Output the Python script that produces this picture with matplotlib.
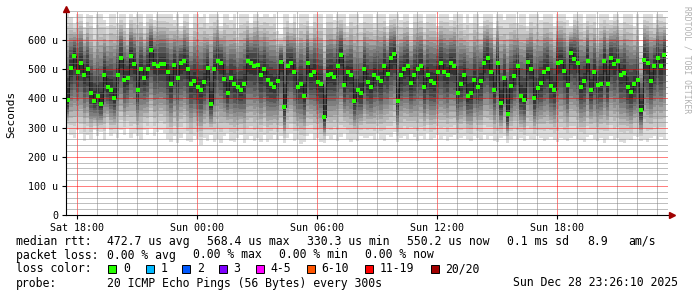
import numpy as np
import matplotlib
matplotlib.use("Agg")
import matplotlib.pyplot as plt
from matplotlib.patches import Rectangle
from matplotlib.ticker import MultipleLocator, FixedLocator

# time axis in hours, 0 = Sat 18:00, one sample every 10 minutes
T_START = -0.55
STEP_H = 10 / 60.0

# median rtt per sample (us)
median_rtt = [
    395, 506, 547, 490, 522, 480, 500, 420, 391, 407, 380, 480, 440, 430, 400,
    480, 540, 462, 470, 545, 517, 428, 500, 470, 500, 565, 517, 510, 517, 517,
    490, 450, 515, 470, 520, 528, 500, 450, 460, 440, 430, 456, 505, 382, 500,
    530, 522, 466, 418, 470, 450, 440, 430, 450, 527, 520, 512, 514, 480, 500,
    462, 450, 440, 460, 525, 370, 510, 522, 490, 440, 450, 410, 520, 480, 490,
    456, 450, 336, 480, 485, 475, 510, 550, 445, 490, 480, 392, 430, 420, 500,
    456, 440, 480, 470, 460, 510, 485, 540, 554, 390, 480, 500, 510, 452, 480,
    500, 510, 440, 480, 460, 453, 490, 520, 490, 480, 520, 510, 420, 450, 480,
    410, 418, 464, 440, 460, 522, 540, 490, 428, 522, 385, 470, 345, 441, 476,
    510, 407, 396, 525, 500, 400, 435, 453, 490, 500, 442, 428, 522, 525, 495,
    445, 555, 535, 523, 440, 460, 528, 430, 490, 445, 450, 530, 450, 540, 518,
    530, 480, 487, 440, 422, 450, 464, 360, 533, 520, 460, 510, 540, 510, 550,
]

# slowest ping per sample (top of the smoke)
max_rtt = [
    690, 680, 655, 690, 690, 645, 690, 685, 640, 690, 690, 670, 650, 690, 690,
    660, 690, 690, 640, 690, 680, 690, 690, 650, 690, 690, 670, 690, 690, 690,
    690, 690, 670, 690, 650, 690, 690, 640, 690, 690, 680, 690, 660, 690, 690,
    690, 650, 690, 690, 670, 690, 640, 690, 690, 690, 660, 690, 690, 680, 690,
    690, 680, 690, 630, 620, 690, 690, 660, 690, 640, 690, 690, 690, 650, 690,
    690, 690, 640, 690, 690, 670, 690, 690, 690, 650, 690, 690, 690, 660, 690,
    690, 690, 660, 690, 690, 690, 650, 690, 690, 690, 670, 690, 690, 640, 690,
    690, 690, 660, 690, 690, 690, 650, 690, 690, 690, 670, 690, 690, 690, 660,
    690, 660, 690, 690, 650, 690, 690, 690, 640, 690, 690, 670, 690, 690, 690,
    660, 690, 690, 650, 690, 690, 690, 670, 690, 690, 690, 650, 690, 690, 690,
    670, 650, 690, 690, 690, 660, 690, 690, 690, 640, 690, 690, 690, 670, 690,
    690, 660, 690, 690, 690, 650, 690, 580, 690, 690, 690, 660, 690, 690, 680,
]

# fastest ping per sample (bottom of the smoke)
min_rtt = [
    300, 275, 265, 290, 280, 255, 275, 262, 290, 270, 285, 258, 300, 270, 280,
    265, 290, 275, 300, 265, 280, 270, 258, 290, 275, 300, 270, 285, 290, 280,
    262, 252, 270, 248, 265, 280, 255, 250, 270, 260, 240, 265, 255, 275, 250,
    262, 248, 270, 280, 255, 252, 265, 275, 248, 260, 270, 255, 265, 252, 275,
    250, 262, 275, 258, 270, 248, 265, 280, 255, 262, 245, 250, 270, 280, 258,
    265, 250, 248, 270, 262, 275, 255, 268, 280, 260, 250, 262, 255, 270, 265,
    265, 270, 258, 280, 262, 255, 275, 268, 285, 250, 265, 272, 260, 278, 268,
    255, 270, 262, 280, 258, 265, 275, 262, 270, 255, 268, 275, 260, 265, 270,
    262, 255, 270, 265, 258, 275, 262, 270, 255, 250, 265, 270, 248, 262, 270,
    258, 265, 255, 270, 262, 258, 270, 265, 255, 262, 268, 258, 252, 265, 260,
    255, 265, 270, 260, 258, 250, 268, 275, 262, 255, 265, 248, 262, 270, 258,
    265, 252, 248, 262, 258, 270, 268, 255, 262, 250, 265, 270, 260, 268, 262,
]

hour_ticks = [0, 6, 12, 18, 24]
hour_labels = ["Sat 18:00", "Sun 00:00", "Sun 06:00", "Sun 12:00", "Sun 18:00"]

loss_labels = ["0", "1", "2", "3", "4-5", "6-10", "11-19", "20/20"]
loss_colors = ["#26ff00", "#00b8ff", "#0059ff", "#7e00ff",
               "#ff00ff", "#ff5500", "#ff0000", "#a10000"]

# smoke layers: share of the spread covered by each band (20 pings, sorted)
band_frac = [1.0, 0.86, 0.75, 0.66, 0.58, 0.50, 0.42, 0.34, 0.25, 0.14]

MONO = "DejaVu Sans Mono"
W, H = 697, 297


def fx(px):
    return px / W


def fy(py):
    return 1 - py / H


fig = plt.figure(figsize=(W / 100, H / 100), dpi=100)
ax = fig.add_axes([fx(66), fy(215), (668 - 66) / W, (215 - 11) / H])

med = np.array(median_rtt, dtype=float)
hi = np.array(max_rtt, dtype=float)
lo = np.array(min_rtt, dtype=float)
n = len(med)
t = T_START + np.arange(n + 1) * STEP_H

def ext(a):
    return np.append(a, a[-1])

for i, f in enumerate(band_frac):
    g = int(190 / 10 * (10 - (i + 1))) + 50
    col = "#%02x%02x%02x" % (g, g, g)
    top = med + (hi - med) * f
    bot = med - (med - lo) * f
    ax.fill_between(t, ext(bot), ext(top), step="post", color=col, lw=0, zorder=1)

# median: dark connector + green marks
ax.step(t, ext(med), where="post", color="#1c1c1c", lw=0.7, zorder=1.5)
ax.plot(t[:-1] + STEP_H / 2, med, "s", color=loss_colors[0], ms=2.4, mew=0, zorder=3)

ax.set_xlim(T_START, T_START + 602 / 20)
ax.set_ylim(0, 700)

ax.xaxis.set_major_locator(FixedLocator(hour_ticks))
ax.set_xticklabels(hour_labels)
ax.xaxis.set_minor_locator(MultipleLocator(1))
ax.yaxis.set_major_locator(FixedLocator([0, 100, 200, 300, 400, 500, 600]))
ax.set_yticklabels(["0"] + ["%d u" % v for v in range(100, 700, 100)])
ax.yaxis.set_minor_locator(MultipleLocator(20))

ax.set_axisbelow(False)
ax.grid(which="major", color=(1, 0, 0, 0.22), ls=(0, (1, 1)), lw=0.72)
ax.grid(which="minor", color=(0.5, 0.5, 0.5, 0.2), ls=(0, (1, 1)), lw=0.72)

for s in ["top", "right"]:
    ax.spines[s].set_visible(False)
for s in ["left", "bottom"]:
    ax.spines[s].set_linewidth(0.8)
    ax.spines[s].set_zorder(4)

ax.tick_params(which="major", length=3, width=0.8, labelsize=7.2, pad=2.5)
ax.tick_params(which="minor", length=0)
for lab in ax.get_xticklabels() + ax.get_yticklabels():
    lab.set_family(MONO)

# arrow heads on the axes
ax.plot([1.006], [0], ">", color="#a00000", ms=4, transform=ax.transAxes, clip_on=False, zorder=5)
ax.plot([0], [1.012], "^", color="#a00000", ms=4, transform=ax.transAxes, clip_on=False, zorder=5)

fig.text(fx(11.5), fy(114), "Seconds", rotation=90, ha="center", va="center",
         family=MONO, fontsize=8)
fig.text(fx(687.5), fy(60), "RRDTOOL / TOBI OETIKER", rotation=-90, ha="center",
         va="center", family=MONO, fontsize=5.8, color="#b0b0b0")

# legend block
LS = 8.3
rows_y = [241.5, 255, 269, 283]

line1 = [(16, "median rtt:"), (106.7, "472.7 us avg"), (206.7, "568.4 us max"),
         (306.7, "330.3 us min"), (407.3, "550.2 us now"), (506.7, "0.1 ms sd"),
         (587.3, "8.9"), (628.3, "am/s")]
line2 = [(16, "packet loss:"), (107, "0.00 % avg"), (193, "0.00 % max"),
         (279, "0.00 % min"), (365, "0.00 % now")]
line4 = [(16, "probe:"), (107, "20 ICMP Echo Pings (56 Bytes) every 300s"),
         (513.3, "Sun Dec 28 23:26:10 2025")]

for row, y in [(line1, rows_y[0]), (line2, rows_y[1]), (line4, rows_y[3])]:
    for x, s in row:
        fig.text(fx(x), fy(y), s, ha="left", va="center", family=MONO, fontsize=LS)

fig.text(fx(16), fy(rows_y[2]), "loss color:", ha="left", va="center", family=MONO, fontsize=LS)
box_x = [108.3, 145.7, 182.3, 219, 255.7, 306.7, 365, 430.7]
for bx, lab, c in zip(box_x, loss_labels, loss_colors):
    fig.add_artist(Rectangle((fx(bx), fy(rows_y[2] + 4)), 8 / W, 8 / H,
                             transform=fig.transFigure, facecolor=c,
                             edgecolor="black", lw=0.7))
    fig.text(fx(bx + 14.5), fy(rows_y[2]), lab, ha="left", va="center",
             family=MONO, fontsize=LS)

fig.savefig("out.png", dpi=100)
